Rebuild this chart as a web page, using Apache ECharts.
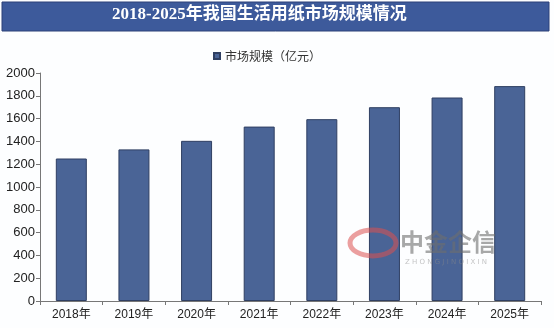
<!DOCTYPE html>
<html><head><meta charset="utf-8">
<script src="https://cdn.jsdelivr.net/npm/echarts@6/dist/echarts.min.js"></script>
<style>html,body{margin:0;padding:0;background:#fff}#c{width:554px;height:328px}</style>
</head><body><div id="c"></div>
<script>
const categories = ['2018年','2019年','2020年','2021年','2022年','2023年','2024年','2025年'];
const marketSize = [1250, 1330, 1405, 1530, 1595, 1700, 1785, 1885];
const seriesName = '市场规模（亿元）';
const titleText = '2018-2025年我国生活用纸市场规模情况';

const chart = echarts.init(document.getElementById('c'));
chart.setOption({
  backgroundColor: '#fdfeff',
  animation: false,
  graphic: [
    {type:'rect', shape:{x:2,y:2,width:547,height:29}, style:{fill:'#3d5a9b', stroke:'#2c4178', lineWidth:1}, z:0},
    {type:'text', left:112, top:6, style:{text:titleText, fill:'#ffffff', font:'bold 17px "Liberation Serif", "Noto Sans CJK SC", serif'}, z:1},
    {type:'ellipse', shape:{cx:373,cy:243,rx:23,ry:13}, style:{fill:'none', stroke:'rgba(220,80,80,0.55)', lineWidth:5}, z:10},
    {type:'text', x:400, y:230, style:{text:'中金企信', fill:'rgba(110,110,110,0.6)', font:'bold 24px "Noto Sans CJK SC", sans-serif'}, z:10},
    {type:'text', x:405, y:259, style:{text:'Z H O N G J I N Q I X I N', fill:'rgba(140,140,140,0.5)', font:'7px "DejaVu Sans", sans-serif'}, z:10}
  ],
  legend: {
    top: 45, left: 208,
    itemWidth: 6, itemHeight: 6, itemGap: 3,
    icon: 'rect',
    textStyle: {fontSize: 12, color: '#333', fontFamily: '"Noto Sans CJK SC", sans-serif'},
    data: [seriesName]
  },
  grid: {left: 40, right: 13, top: 73, bottom: 27},
  xAxis: {
    type: 'category', data: categories,
    axisLine: {lineStyle: {color: '#777'}},
    axisTick: {show: true, lineStyle: {color: '#777'}, length: 4},
    axisLabel: {fontSize: 12, color: '#222', margin: 8, fontFamily: 'Arial, "Liberation Sans", "Noto Sans CJK SC", sans-serif'}
  },
  yAxis: {
    type: 'value', min: 0, max: 2000, interval: 200,
    axisLine: {show: true, lineStyle: {color: '#777'}},
    axisTick: {show: true, lineStyle: {color: '#777'}, length: 4},
    splitLine: {show: false},
    axisLabel: {fontSize: 13, color: '#222', margin: 5, formatter: function(v){return String(v);}, fontFamily: 'Arial, "Liberation Sans", sans-serif'}
  },
  series: [{
    name: seriesName, type: 'bar', data: marketSize,
    barWidth: 31,
    itemStyle: {color: '#4a6496', borderColor: '#2f3f62', borderWidth: 1}
  }]
});
</script></body></html>
